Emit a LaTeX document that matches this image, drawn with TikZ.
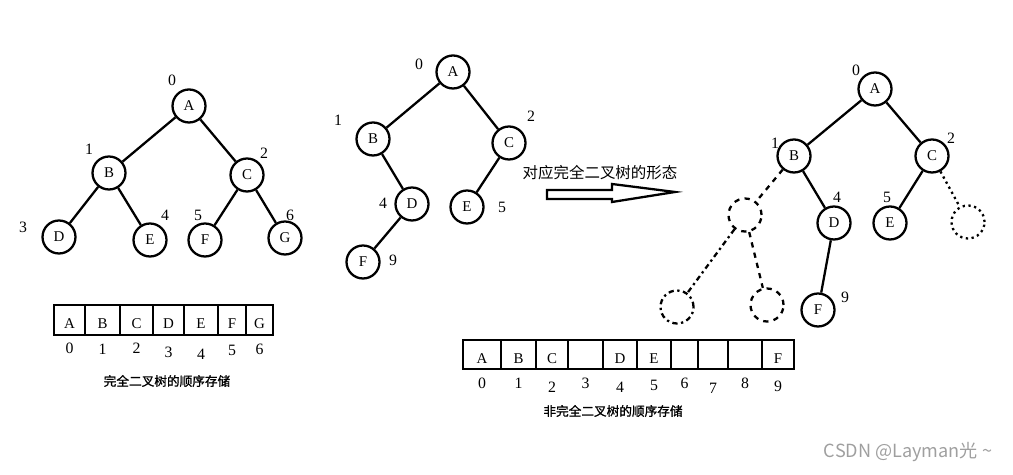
\documentclass[tikz,border=0pt]{standalone}
\usepackage{fontspec}
\setmainfont{Liberation Serif}
\newfontfamily\cjk{Noto Sans CJK SC}
\newfontfamily\cjkb{Noto Sans CJK SC}[FakeBold=1.2]
\usepackage[dvipsnames]{xcolor}
\begin{document}
\begin{tikzpicture}[x=0.02cm,y=-0.02cm,line width=1.3pt,
  main node/.style={circle,draw,line width=1.3pt,minimum size=0.66cm,inner sep=0pt,font=\fontsize{8.5}{9}\selectfont},
  ghost node/.style={circle,draw,line width=1.3pt,minimum size=0.66cm,inner sep=0pt},
  idx label/.style={inner sep=0pt,font=\fontsize{9}{10}\selectfont},
  cell box/.style={draw,line width=1.5pt},
  cap text/.style={inner sep=0pt,font=\cjkb\fontsize{7.2}{8}\selectfont}]
\useasboundingbox (0,0) rectangle (1013,475);

\node[main node] (lA) at (189,106) {A};
\node[main node] (lB) at (109,173) {B};
\node[main node] (lC) at (247,175) {C};
\node[main node] (lD) at (59,237) {D};
\node[main node] (lE) at (150,240) {E};
\node[main node] (lF) at (205,240) {F};
\node[main node] (lG) at (285,238) {G};
\node[idx label] (l0) at (172,80) {0};
\node[idx label] (l1) at (89,149) {1};
\node[idx label] (l2) at (264,153) {2};
\node[idx label] (l3) at (23,227) {3};
\node[idx label] (l4) at (165,215) {4};
\node[idx label] (l5) at (198,215) {5};
\node[idx label] (l6) at (290,215) {6};
\path
    (lA) edge (lB)
    (lA) edge (lC)
    (lB) edge (lD)
    (lB) edge (lE)
    (lC) edge (lF)
    (lC) edge (lG)
    ;

\foreach \l/\r/\t/\i/\iy in {54/85/A/0/348,85/120/B/1/349,120/153/C/2/348,153/184/D/3/352,184/218/E/4/354,218/246/F/5/350,246/273/G/6/349}{
    \draw[cell box] (\l,305) rectangle (\r,335);
    \node[font=\fontsize{8.5}{9}\selectfont] at ({(\l+\r)/2},324) {\t};
    \node[idx label] at ({(\l+\r)/2},\iy) {\i};
}
\node[cap text] (lcap) at (167,381) {完全二叉树的顺序存储};

\node[main node] (mA) at (453,72) {A};
\node[main node] (mB) at (373,139) {B};
\node[main node] (mC) at (509,143) {C};
\node[main node] (mD) at (412,204) {D};
\node[main node] (mE) at (467,207) {E};
\node[main node] (mF) at (363,262) {F};
\node[idx label] (m0) at (419,64) {0};
\node[idx label] (m1) at (338,120) {1};
\node[idx label] (m2) at (531,116) {2};
\node[idx label] (m4) at (383,203) {4};
\node[idx label] (m5) at (502,207) {5};
\node[idx label] (m9) at (393,260) {9};
\path
    (mA) edge (mB)
    (mA) edge (mC)
    (mB) edge (mD)
    (mC) edge (mE)
    (mD) edge (mF)
    ;

\node[inner sep=0pt,font=\cjk\fontsize{8.8}{10}\selectfont] (form) at (600,173) {对应完全二叉树的形态};
\draw[line width=1.3pt] (547,190) -- (612,190) -- (612,184) -- (675,192) -- (612,202) -- (612,199) -- (547,199) -- cycle;

\node[main node] (rA) at (875,89) {A};
\node[main node] (rB) at (794,156) {B};
\node[main node] (rC) at (932,156) {C};
\node[main node] (rD) at (834,223) {D};
\node[main node] (rE) at (890,223) {E};
\node[main node] (rF) at (818,310) {F};
\node[ghost node,dashed] (r3) at (745,215) {};
\node[ghost node,dotted] (r6) at (968,222) {};
\node[ghost node,dash dot] (r7) at (677,307) {};
\node[ghost node,dashed] (r8) at (767,305) {};
\node[idx label] (r0) at (856,70) {0};
\node[idx label] (r1) at (775,143) {1};
\node[idx label] (r2) at (951,138) {2};
\node[idx label] (r4) at (837,197) {4};
\node[idx label] (r5) at (887,197) {5};
\node[idx label] (r9) at (845,297) {9};
\path
    (rA) edge (rB)
    (rA) edge (rC)
    (rB) edge (rD)
    (rC) edge (rE)
    (rD) edge (rF)
    (rB) edge[dashed] (r3)
    (rC) edge[dotted] (r6)
    (r3) edge[dash dot] (r7)
    (r3) edge[dashed] (r8)
    ;

\foreach \l/\r/\t/\i/\iy in {463/501/A/0/383,501/536/B/1/383,536/568/C/2/387,568/603//3/383,603/637/D/4/387,637/671/E/5/385,671/698//6/383,698/728//7/388,728/762//8/383,762/794/F/9/386}{
    \draw[cell box] (\l,340) rectangle (\r,369);
    \node[font=\fontsize{8.5}{9}\selectfont] at ({(\l+\r)/2},359) {\t};
    \node[idx label] at ({(\l+\r)/2},\iy) {\i};
}
\node[cap text] (rcap) at (613,411) {非完全二叉树的顺序存储};

\node[inner sep=0pt,text=gray!75,font=\cjk\fontsize{10.3}{12}\selectfont] (mark) at (908,452) {CSDN @Layman光 \textasciitilde};
\end{tikzpicture}
\end{document}
